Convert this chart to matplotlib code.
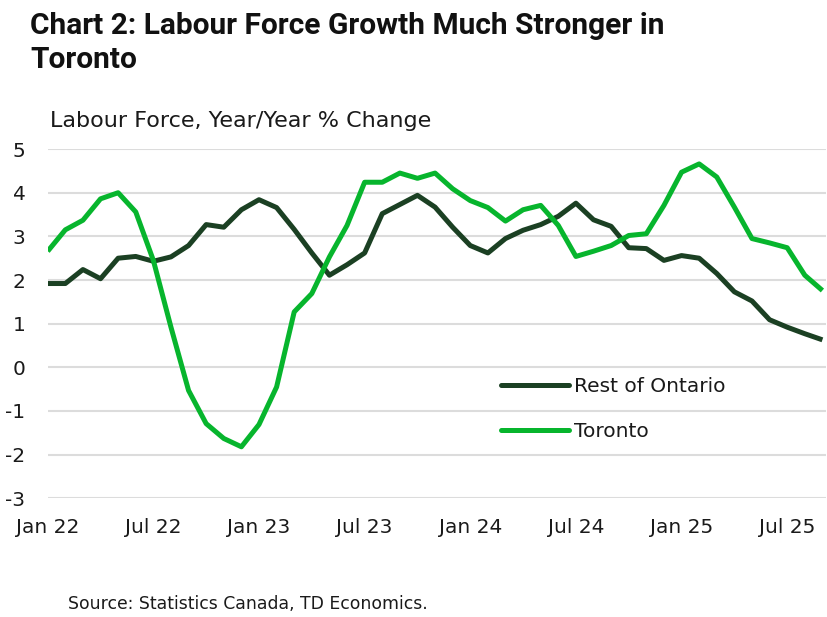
import matplotlib
matplotlib.use("Agg")
import matplotlib.pyplot as plt
import numpy as np

# monthly, Jan 2022 - Sep 2025
rest_of_ontario = [1.92, 1.92, 2.24, 2.03, 2.50, 2.54, 2.43, 2.53, 2.79, 3.27, 3.21, 3.61,
                   3.84, 3.66, 3.16, 2.62, 2.11, 2.35, 2.62, 3.52, 3.73, 3.94,
                   3.67, 3.21, 2.79, 2.62, 2.95, 3.14, 3.27, 3.46, 3.76, 3.38, 3.23,
                   2.74, 2.72, 2.45, 2.56, 2.50, 2.15, 1.73, 1.52, 1.09, 0.92, 0.77, 0.63]
toronto = [2.66, 3.15, 3.37, 3.86, 4.00, 3.56, 2.45, 0.92, -0.53, -1.29, -1.63, -1.82,
           -1.31, -0.45, 1.27, 1.69, 2.53, 3.25, 4.24, 4.24, 4.45, 4.33,
           4.45, 4.09, 3.82, 3.66, 3.35, 3.61, 3.71, 3.25, 2.54, 2.66, 2.79,
           3.02, 3.06, 3.71, 4.47, 4.66, 4.36, 3.67, 2.95, 2.85, 2.74, 2.11, 1.76]
tick_labels = ["Jan 22", "Jul 22", "Jan 23", "Jul 23", "Jan 24", "Jul 24", "Jan 25", "Jul 25"]
y_ticks = [5, 4, 3, 2, 1, 0, -1, -2, -3]

dark = "#1b4023"
bright = "#07b52d"
txt = "#1a1a1a"

plt.rcParams["font.family"] = ["DejaVu Sans"]

fig = plt.figure(figsize=(8.27, 6.17), dpi=100)
ax = fig.add_axes([0.0577, 0.1924, 0.941, 0.566])

months = np.arange(len(toronto))
ax.plot(months, rest_of_ontario, color=dark, lw=3.6, label="Rest of Ontario",
        solid_capstyle="butt", solid_joinstyle="round", zorder=3)
ax.plot(months, toronto, color=bright, lw=3.6, label="Toronto",
        solid_capstyle="butt", solid_joinstyle="round", zorder=3)

ax.set_xlim(0, 44.2)
ax.set_ylim(-3, 5)
ax.set_yticks(y_ticks)
ax.set_yticklabels([str(v) for v in y_ticks])
ax.set_xticks(np.arange(0, len(toronto), 6))
ax.set_xticklabels(tick_labels)
ax.tick_params(axis="both", length=0, labelsize=14.5, colors=txt)
ax.tick_params(axis="y", pad=16)
ax.tick_params(axis="x", pad=14)
ax.grid(axis="y", color="#dcdcdc", lw=1.5, zorder=0)
ax.set_axisbelow(True)
for s in ax.spines.values():
    s.set_visible(False)

leg = ax.legend(loc="upper left", bbox_to_anchor=(501 / 827, 1 - 377 / 617),
                bbox_transform=fig.transFigure, frameon=False, fontsize=14.5,
                handlelength=3.4, handletextpad=0.2, labelspacing=1.3,
                borderpad=0, borderaxespad=0)
for h in leg.get_lines():
    h.set_solid_capstyle("round")
for t in leg.get_texts():
    t.set_color(txt)

fig.text(30 / 827, 1 - 26 / 617, "Chart 2: Labour Force Growth Much Stronger in",
         fontsize=21.5, fontweight="bold", family="Roboto", color="#111111", va="center")
fig.text(30 / 827, 1 - 60 / 617, "Toronto",
         fontsize=21.5, fontweight="bold", family="Roboto", color="#111111", va="center")
fig.text(50 / 827, 1 - 121 / 617, "Labour Force, Year/Year % Change",
         fontsize=16, color=txt, va="center")
fig.text(68 / 827, 1 - 604 / 617, "Source: Statistics Canada, TD Economics.",
         fontsize=12.4, color=txt, va="center")

fig.savefig("out.png", dpi=100)
